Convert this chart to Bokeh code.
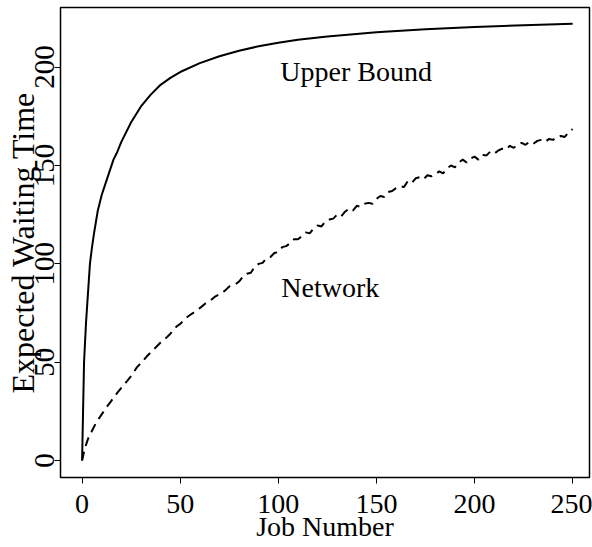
from bokeh.plotting import figure
from bokeh.models import Range1d, Label, FixedTicker
from bokeh.embed import file_html
from bokeh.resources import INLINE

# Upper bound curve (solid)
ub_x = [0, 1, 2, 3, 4, 5, 6, 7, 8, 10, 12, 14, 16, 18, 20, 25, 30, 35, 40, 45,
        50, 60, 70, 80, 90, 100, 110, 125, 150, 175, 200, 225, 250]
ub_y = [0, 50, 70, 85, 100, 108, 115, 121, 127, 135, 141, 147, 153, 157, 162,
        172, 180, 186, 191, 194.5, 197.5, 202, 205.5, 208.3, 210.6, 212.4, 213.9,
        215.6, 217.7, 219.2, 220.4, 221.3, 222]

# Network simulation curve (dashed)
net_x = [0, 1, 2, 3, 4, 5, 7, 10, 12, 15, 18, 20, 23, 25, 28, 30, 33, 35, 38, 40,
         43, 45, 48, 50, 53, 55, 58, 60, 63, 65, 68, 70, 73, 75, 78, 80, 82, 84, 86,
         88, 90, 92, 94, 96, 98, 100, 102, 104, 106, 108, 110, 112, 114, 116, 118,
         120, 122, 124, 126, 128, 130, 132, 134, 136, 138, 140, 142, 144, 146, 148,
         150, 152, 154, 156, 158, 160, 162, 164, 166, 168, 170, 172, 174, 176, 178,
         180, 182, 184, 186, 188, 190, 192, 194, 196, 198, 200, 202, 204, 206, 208,
         210, 212, 214, 216, 218, 220, 222, 224, 226, 228, 230, 232, 234, 236, 238,
         240, 242, 244, 246, 248, 250]
net_y = [0, 4.5, 8, 11, 13, 15, 19, 23.5, 26.5, 30.5, 34.5, 37, 40.5, 43, 47.5,
         49.5, 53, 55, 58, 60, 62.5, 64.5, 68, 69.5, 72.5, 74, 76, 77.5, 80, 81,
         83.5, 84.5, 86.5, 88.5, 89.5, 91, 93.5, 95, 95.5, 98.5, 100, 100.5, 103,
         103.5, 105.5, 106, 108.5, 109, 110.5, 112.5, 112.5, 114, 116, 115.5, 118,
         119.5, 119, 121.5, 122.5, 123, 125, 124, 126.5, 128, 127, 129.5, 129,
         130.5, 131, 130.5, 133, 134.5, 134, 136.5, 137, 138.5, 139.5, 139, 142,
         141, 143.5, 144, 143, 145, 144.5, 145.5, 147, 146, 148.5, 150, 149, 151.5,
         153, 151.5, 153.5, 154.5, 153, 155.5, 155, 157, 156, 157.5, 158.5, 158,
         160, 159, 160.5, 161.5, 160.5, 162, 161, 162.5, 163, 162, 163.5, 163,
         164.5, 165, 164.5, 167, 168.5]

x_ticks = [0, 50, 100, 150, 200, 250]
y_ticks = [0, 50, 100, 150, 200]

FONT = "Liberation Serif"

p = figure(width=592, height=547, output_backend="svg", toolbar_location=None,
           x_range=Range1d(-11, 258.6), y_range=Range1d(-8.6, 230.3),
           min_border_left=60, min_border_right=3, min_border_top=7,
           min_border_bottom=70)
p.grid.visible = False
p.outline_line_color = "black"
p.outline_line_width = 1.5
p.background_fill_color = "white"
p.border_fill_color = "white"

p.line(ub_x, ub_y, line_color="black", line_width=2)
p.line(net_x, net_y, line_color="black", line_width=2, line_dash="9 6")

for ax in (p.xaxis[0], p.yaxis[0]):
    ax.axis_line_color = None
    ax.major_tick_in = 0
    ax.major_tick_out = 6
    ax.major_tick_line_width = 1
    ax.minor_tick_line_color = None
    ax.major_label_text_font = FONT
    ax.major_label_text_color = "black"
    ax.axis_label_text_font = FONT
    ax.axis_label_text_font_style = "normal"
    ax.axis_label_text_color = "black"

p.xaxis[0].ticker = FixedTicker(ticks=x_ticks)
p.yaxis[0].ticker = FixedTicker(ticks=y_ticks)
p.xaxis[0].major_label_text_font_size = "28px"
p.yaxis[0].major_label_text_font_size = "29px"
p.yaxis[0].major_label_orientation = "parallel"
p.xaxis[0].axis_label = "Job Number"
p.yaxis[0].axis_label = "Expected Waiting Time"
p.xaxis[0].axis_label_text_font_size = "28px"
p.yaxis[0].axis_label_text_font_size = "32px"
p.xaxis[0].major_label_standoff = 11
p.xaxis[0].axis_label_standoff = -5
p.yaxis[0].major_label_standoff = 0
p.yaxis[0].axis_label_standoff = -8

# curve labels
p.add_layout(Label(x=101, y=198, text="Upper Bound", text_font=FONT,
                   text_font_size="28px", text_color="black",
                   text_align="left", text_baseline="alphabetic"))
p.add_layout(Label(x=101.5, y=88, text="Network", text_font=FONT,
                   text_font_size="28px", text_color="black",
                   text_align="left", text_baseline="alphabetic"))

open("out.html", "w").write(file_html(p, INLINE))
